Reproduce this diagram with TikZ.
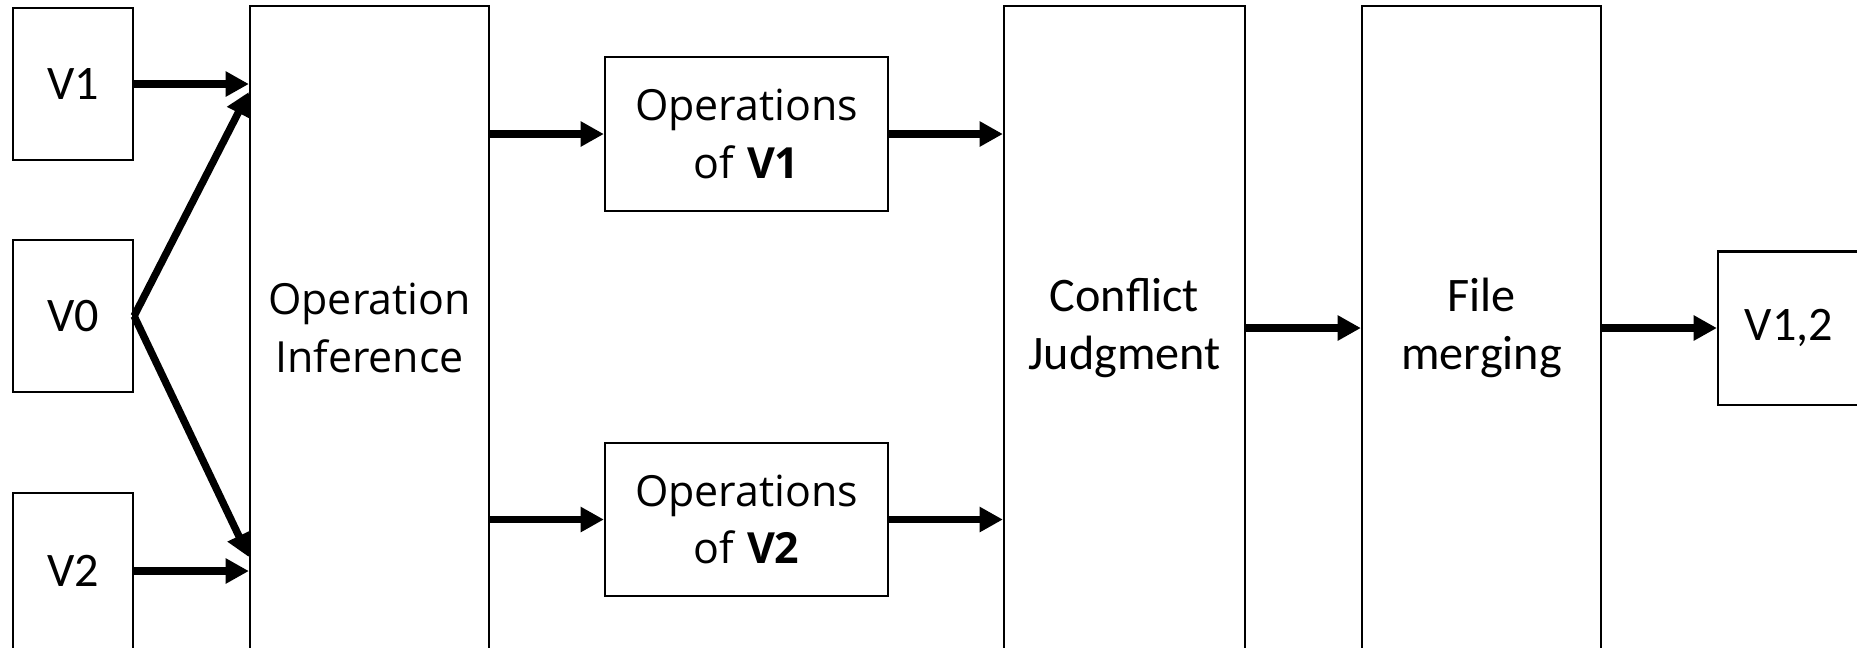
\documentclass[tikz,border=0pt]{standalone}
\usepackage{fontspec}
\setmainfont{Carlito}
\newfontfamily\opfont{Open Sans}
\usetikzlibrary{arrows.meta}

\tikzset{
  box/.style={draw, line width=0.6pt, align=center, inner sep=0pt,
    font=\fontsize{13.7}{16.3}\selectfont},
  opbox/.style={box, font=\opfont\fontsize{12.2}{16.4}\selectfont},
  flow/.style={line width=2.1pt, -{Triangle[length=6.6pt,width=6.8pt]}}
}

\begin{document}
\begin{tikzpicture}[x=0.01cm, y=-0.01cm]
\clip (0,0) rectangle (1857,647);
\fill[white] (0,0) rectangle (1857,647);

% versions
\node[box, minimum width=1.2cm, minimum height=1.52cm] (v1) at (73,84) {V1};
\node[box, minimum width=1.2cm, minimum height=1.52cm] (v0) at (73,316) {V0};
\node[box, minimum width=1.2cm, minimum height=1.56cm] (v2) at (73,571) {V2};

% inference
\node[opbox, minimum width=2.39cm, minimum height=6.44cm] (infer) at (369.5,328) {Operation\\Inference};

% operations
\node[opbox, minimum width=2.83cm, minimum height=1.54cm] (opsA) at (746.5,134) {Operations\\of \textbf{V1}};
\node[opbox, minimum width=2.83cm, minimum height=1.53cm] (opsB) at (746.5,519.5) {Operations\\of \textbf{V2}};

% conflict and merge
\node[box, minimum width=2.41cm, minimum height=6.44cm] (judge) at (1124.5,328) {Conflict\\Judgment};
\node[box, minimum width=2.39cm, minimum height=6.44cm] (merge) at (1481.5,328) {File\\merging};
\node[box, minimum width=1.42cm, minimum height=1.53cm] (v12) at (1789,328) {V1,2};

\coordinate (inTop) at (infer.west |- 0,92);
\coordinate (inBot) at (infer.west |- 0,557);

% arrows
\draw[flow] (v1.east) -- (v1.east -| infer.west);
\draw[flow] (v2.east) -- (v2.east -| infer.west);
\draw[flow] (v0.east) -- (inTop);
\draw[flow] (v0.east) -- (inBot);
\draw[flow] (infer.east |- opsA) -- (opsA.west);
\draw[flow] (infer.east |- opsB) -- (opsB.west);
\draw[flow] (opsA.east) -- (opsA.east -| judge.west);
\draw[flow] (opsB.east) -- (opsB.east -| judge.west);
\draw[flow] (judge.east) -- (merge.west);
\draw[flow] (merge.east) -- (v12.west);
\end{tikzpicture}
\end{document}
